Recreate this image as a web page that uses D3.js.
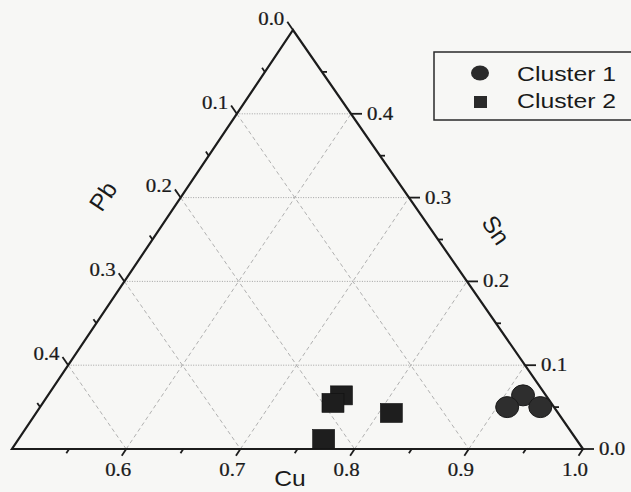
<!DOCTYPE html>
<html><head><meta charset="utf-8">
<script src="https://cdn.jsdelivr.net/npm/d3@7/dist/d3.min.js"></script>
<style>body{margin:0;background:#f7f7f5;}svg{display:block;}</style>
</head><body>
<svg id="c" width="631" height="492"></svg>
<script>
// ---- data (ternary fractions: Cu, Pb, Sn) ----
const seriesNames = ["Cluster 1", "Cluster 2"];
const cluster1Cu = [0.916, 0.909, 0.938];
const cluster1Pb = [0.020, 0.041, 0.012];
const cluster1Sn = [0.064, 0.050, 0.050];
const cluster2Cu = [0.757, 0.754, 0.811, 0.767];
const cluster2Pb = [0.179, 0.191, 0.146, 0.221];
const cluster2Sn = [0.064, 0.055, 0.043, 0.012];
const cuTicks = [0.6, 0.7, 0.8, 0.9, 1.0];
const pbTicks = [0.0, 0.1, 0.2, 0.3, 0.4];
const snTicks = [0.0, 0.1, 0.2, 0.3, 0.4];
const minorTicks = [0.05, 0.15, 0.25, 0.35, 0.45];
const axisNames = ["Cu", "Pb", "Sn"];

const svg = d3.select("#c");
// corners
const L = [12, 449], R = [583, 449], T = [293, 30];
// scales
const ySn = d3.scaleLinear().domain([0, 0.5]).range([L[1], T[1]]);
const xCu = d3.scaleLinear().domain([0.5, 1]).range([L[0], R[0]]);
function proj(cu, pb, sn) {
  const wB = pb / 0.5, wC = sn / 0.5, wA = 1 - wB - wC;
  return [wA * xCu(1) + wB * xCu(0.5) + wC * T[0], ySn(sn)];
}
const fmt = d3.format(".1f");
const g = svg.append("g");

// grid: horizontal dotted (constant Sn)
[0.1, 0.2, 0.3, 0.4].forEach(s => {
  const a = proj(0.5, 0.5 - s, s), b = proj(1 - s, 0, s);
  g.append("line").attr("x1", a[0]).attr("y1", a[1]).attr("x2", b[0]).attr("y2", b[1])
    .attr("stroke", "#9a9a9a").attr("stroke-width", 0.9).attr("stroke-dasharray", "1,1.5");
});
// constant Cu (parallel to left edge)
[0.6, 0.7, 0.8, 0.9].forEach(c => {
  const a = proj(c, 1 - c, 0), b = proj(c, 0, 1 - c);
  g.append("line").attr("x1", a[0]).attr("y1", a[1]).attr("x2", b[0]).attr("y2", b[1])
    .attr("stroke", "#a8a8a8").attr("stroke-width", 0.9).attr("stroke-dasharray", "4,3");
});
// constant Pb (parallel to right edge)
[0.1, 0.2, 0.3, 0.4].forEach(p => {
  const a = proj(0.5, p, 0.5 - p), b = proj(1 - p, p, 0);
  g.append("line").attr("x1", a[0]).attr("y1", a[1]).attr("x2", b[0]).attr("y2", b[1])
    .attr("stroke", "#a8a8a8").attr("stroke-width", 0.9).attr("stroke-dasharray", "4,3");
});

// triangle
g.append("path").attr("d", d3.line()([L, R, T, L]) + "Z")
  .attr("fill", "none").attr("stroke", "#1c1c1c").attr("stroke-width", 2.2).attr("stroke-linejoin", "miter");

function unit(dx, dy) { const n = Math.hypot(dx, dy); return [dx / n, dy / n]; }
const dBottom = unit(L[0] - T[0], L[1] - T[1]);
const dLeft = unit(T[0] - R[0], T[1] - R[1]);
const dRight = [1, 0];
function tick(p, d, len) {
  g.append("line").attr("x1", p[0]).attr("y1", p[1])
    .attr("x2", p[0] + d[0] * len).attr("y2", p[1] + d[1] * len)
    .attr("stroke", "#1c1c1c").attr("stroke-width", 1.8);
}
const serif = "'Liberation Serif','Times New Roman',serif";
const sans = "'Liberation Sans',Arial,sans-serif";
function label(x, y, txt, anchor, size, fam, sx) {
  return g.append("text").attr("transform", `translate(${x},${y}) scale(${sx || 1.1},1)`)
    .attr("text-anchor", anchor).attr("font-family", fam).attr("font-size", size)
    .attr("fill", "#1a1a1a").attr("stroke", "#1a1a1a").attr("stroke-width", 0.25).text(txt);
}
// bottom Cu axis
cuTicks.forEach(c => {
  const p = proj(c, 1 - c, 0);
  tick(p, dBottom, 8);
  label(p[0] - 8, 476, fmt(c), "middle", 19, serif);
});
minorTicks.forEach(m => { const c = 0.5 + m; const p = proj(c, 1 - c, 0); tick(p, dBottom, 5); });
// left Pb axis
pbTicks.forEach(pb => {
  const p = proj(0.5, pb, 0.5 - pb);
  tick(p, dLeft, 10);
  label(p[0] + dLeft[0] * 10 - 3, p[1] + dLeft[1] * 10 + 3, fmt(pb), "end", 19, serif);
});
minorTicks.forEach(pb => { const p = proj(0.5, pb, 0.5 - pb); tick(p, dLeft, 5); });
// right Sn axis
snTicks.forEach(sn => {
  const p = proj(1 - sn, 0, sn);
  tick(p, dRight, 11);
  label(p[0] + 16, p[1] + 6, fmt(sn), "start", 19, serif);
});
minorTicks.forEach(sn => { const p = proj(1 - sn, 0, sn); tick(p, dRight, 5); });

// axis titles
g.append("text").attr("transform", "translate(290,486) scale(1.12,1)")
  .attr("text-anchor", "middle").attr("font-family", sans).attr("font-size", 22)
  .attr("fill", "#1a1a1a").text(axisNames[0]);
g.append("text").attr("transform", "translate(103,196) rotate(-56)")
  .attr("text-anchor", "middle").attr("dominant-baseline", "central")
  .attr("font-family", sans).attr("font-size", 24).attr("fill", "#1a1a1a").text(axisNames[1]);
g.append("text").attr("transform", "translate(496,230) rotate(56)")
  .attr("text-anchor", "middle").attr("dominant-baseline", "central")
  .attr("font-family", sans).attr("font-size", 24).attr("fill", "#1a1a1a").text(axisNames[2]);

// data points
const c1 = cluster1Cu.map((c, i) => proj(c, cluster1Pb[i], cluster1Sn[i]));
const c2 = cluster2Cu.map((c, i) => proj(c, cluster2Pb[i], cluster2Sn[i]));
g.selectAll(".sq").data(c2).join("rect").attr("class", "sq")
  .attr("x", d => d[0] - 11).attr("y", d => d[1] - 9.5).attr("width", 22).attr("height", 19)
  .attr("fill", "#1e1e1e").attr("stroke", "#111").attr("stroke-width", 0.6);
g.selectAll(".ci").data(c1).join("ellipse").attr("class", "ci")
  .attr("cx", d => d[0]).attr("cy", d => d[1]).attr("rx", 11.5).attr("ry", 10.5)
  .attr("fill", "#2e2e2e").attr("stroke", "#1a1a1a").attr("stroke-width", 1);

// legend
g.append("rect").attr("x", 434).attr("y", 52).attr("width", 210).attr("height", 68)
  .attr("fill", "none").attr("stroke", "#2a2a2a").attr("stroke-width", 1.5);
g.append("ellipse").attr("cx", 480).attr("cy", 73).attr("rx", 9).attr("ry", 7.5).attr("fill", "#2a2a2a");
g.append("rect").attr("x", 474).attr("y", 96).attr("width", 13).attr("height", 12).attr("fill", "#2a2a2a");
g.append("text").attr("transform", "translate(517,81) scale(1.18,1)").attr("font-family", sans)
  .attr("font-size", 21).attr("fill", "#1a1a1a").text(seriesNames[0]);
g.append("text").attr("transform", "translate(517,108) scale(1.18,1)").attr("font-family", sans)
  .attr("font-size", 21).attr("fill", "#1a1a1a").text(seriesNames[1]);
</script>
</body></html>
